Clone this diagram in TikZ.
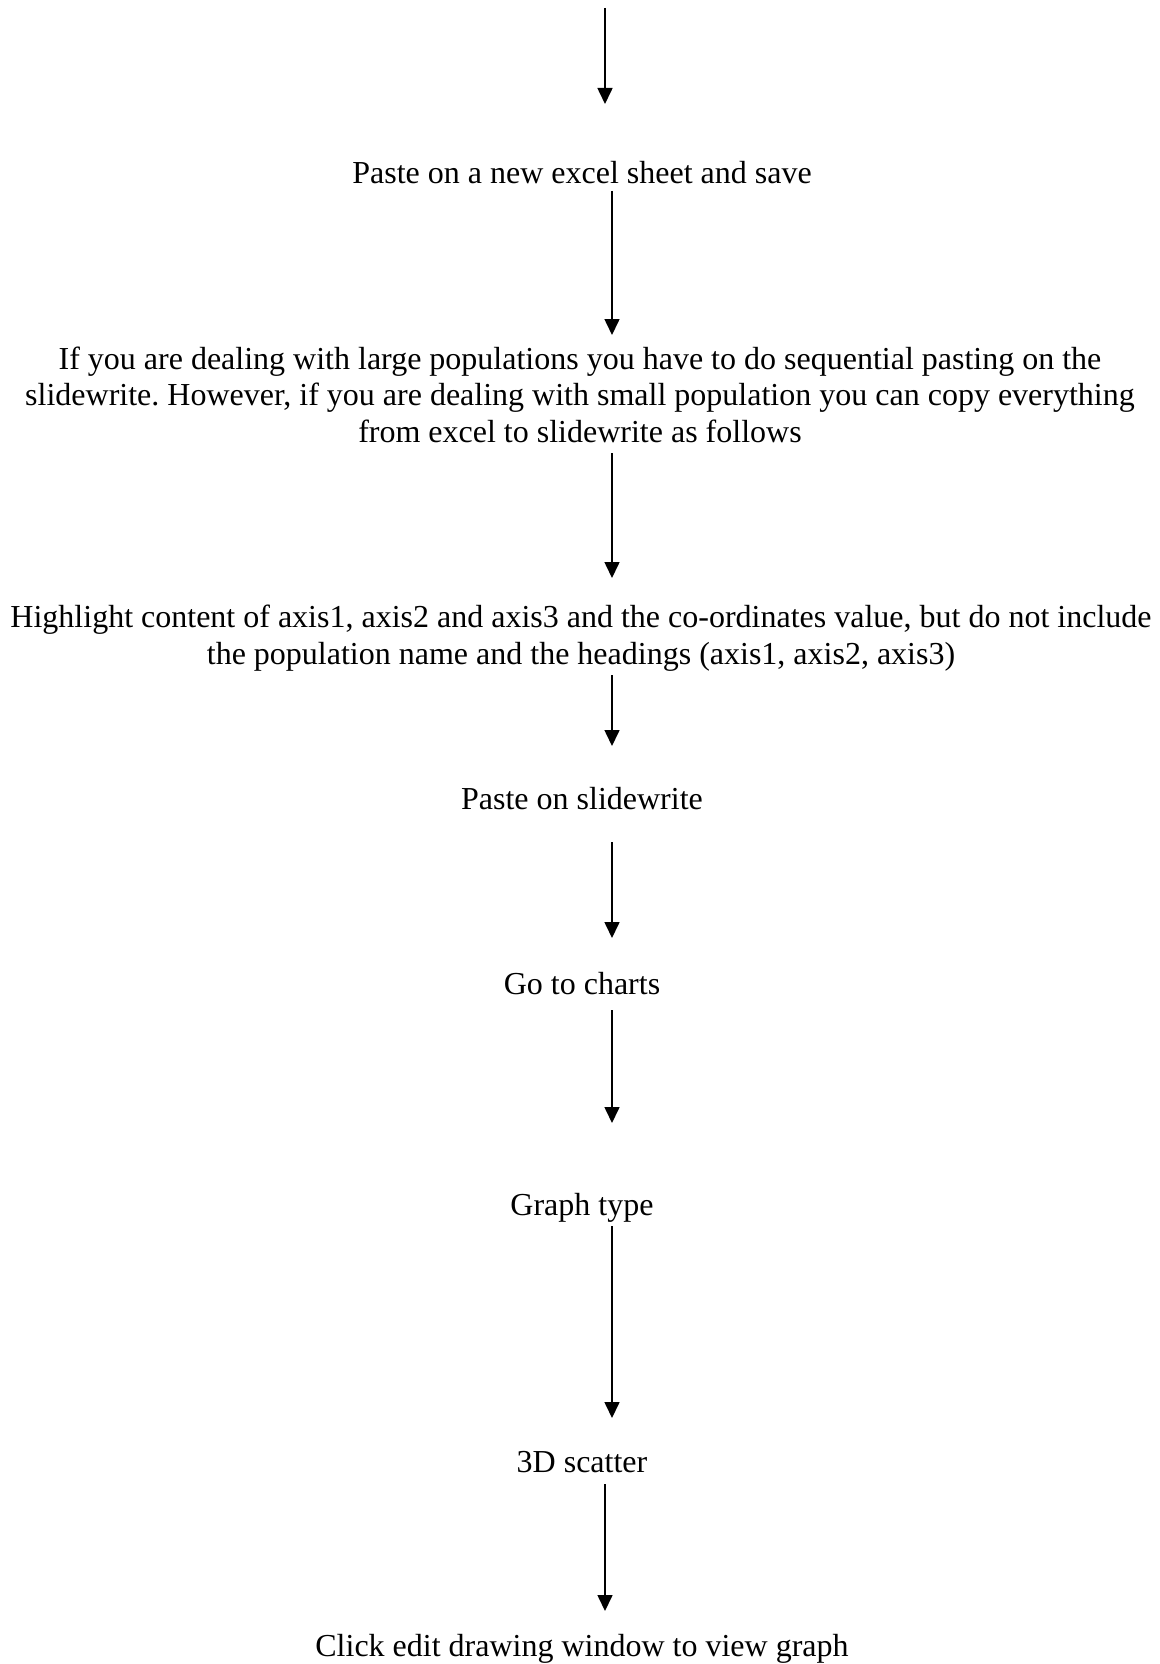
\documentclass[tikz,border=0pt]{standalone}
\usepackage{fontspec}
\setmainfont{Liberation Serif}
\usetikzlibrary{arrows.meta}
\frenchspacing
\begin{document}
\begin{tikzpicture}[x=1pt,y=-1pt,
  steptext/.style={anchor=base,align=center,inner sep=0pt,font=\fontsize{32}{36.5}\selectfont},
  arr/.style={line width=1.6pt,-{Triangle[width=15pt,length=16pt]}}]
\useasboundingbox (0,0) rectangle (1159,1664);
\fill[white] (0,0) rectangle (1159,1664);
% steps (multi-line nodes are placed by the baseline of their last line)
\node[steptext] (t1) at (582,183) {Paste on a new excel sheet and save};
\node[steptext] (t2) at (580,442) {If you are dealing with large populations you have to do sequential pasting on the\\slidewrite. However, if you are dealing with small population you can copy everything\\from excel to slidewrite as follows};
\node[steptext] (t3) at (581,664) {Highlight content of axis1, axis2 and axis3 and the co-ordinates value, but do not include\\the population name and the headings (axis1, axis2, axis3)};
\node[steptext] (t4) at (582,809) {Paste on slidewrite};
\node[steptext] (t5) at (582,994) {Go to charts};
\node[steptext] (t6) at (582,1215) {Graph type};
\node[steptext] (t7) at (582,1472) {3D scatter};
\node[steptext] (t8) at (582,1656) {Click edit drawing window to view graph};
% arrow ends
\coordinate (a1s) at (605,8);
\coordinate (a1e) at (605,104);
\coordinate (a2s) at (612,191);
\coordinate (a2e) at (612,335);
\coordinate (a3s) at (612,453);
\coordinate (a3e) at (612,578);
\coordinate (a4s) at (612,675);
\coordinate (a4e) at (612,746);
\coordinate (a5s) at (612,842);
\coordinate (a5e) at (612,938);
\coordinate (a6s) at (612,1010);
\coordinate (a6e) at (612,1123);
\coordinate (a7s) at (612,1226);
\coordinate (a7e) at (612,1418);
\coordinate (a8s) at (605,1484);
\coordinate (a8e) at (605,1611);
\foreach \i in {1,...,8}{\draw[arr] (a\i s) -- (a\i e);}
\end{tikzpicture}
\end{document}
